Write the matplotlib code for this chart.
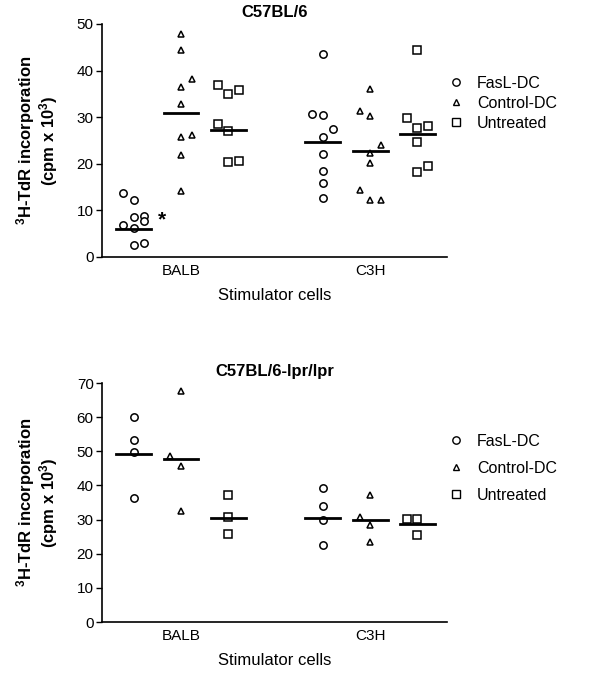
#!/usr/bin/env python3
"""
Dot plots of 3H-TdR incorporation for C57BL/6 and C57BL/6-lpr/lpr
responders, with median bars per group.
"""

import matplotlib
matplotlib.use("Agg")
import matplotlib.pyplot as plt

plt.rcParams['font.family'] = ['Liberation Sans', 'DejaVu Sans']
plt.rcParams['mathtext.fontset'] = 'custom'
plt.rcParams['mathtext.rm'] = 'Liberation Sans'
plt.rcParams['mathtext.bf'] = 'Liberation Sans:bold'

# DATA
stimulators = ["BALB", "C3H"]
groups = ["FasL-DC", "Control-DC", "Untreated"]

# top panel: C57BL/6 (cpm x 10^3)
b6_balb_fasl = [13.7, 12.2, 8.6, 8.8, 7.7, 6.9, 6.2, 2.6, 3.0]
b6_balb_ctrl = [47.9, 44.4, 36.5, 38.2, 32.8, 25.8, 26.2, 21.9, 14.2]
b6_balb_untr = [36.9, 35.0, 35.8, 28.5, 27.0, 20.4, 20.6]
b6_c3h_fasl = [43.6, 30.7, 30.5, 27.5, 25.8, 22.1, 18.5, 15.9, 12.7]
b6_c3h_ctrl = [36.1, 31.3, 30.3, 24.0, 22.3, 20.2, 14.4, 12.2, 12.2]
b6_c3h_untr = [44.4, 29.8, 27.7, 28.1, 24.7, 18.2, 19.5]
b6_medians = [[6.0, 30.9, 27.3], [24.7, 22.7, 26.4]]

# bottom panel: C57BL/6-lpr/lpr
lpr_balb_fasl = [60.2, 53.3, 49.7, 36.2]
lpr_balb_ctrl = [67.8, 48.5, 45.7, 32.5]
lpr_balb_untr = [37.2, 30.7, 25.7]
lpr_c3h_fasl = [39.2, 33.9, 29.9, 22.7]
lpr_c3h_ctrl = [37.2, 30.7, 28.5, 23.5]
lpr_c3h_untr = [30.2, 30.2, 25.5]
lpr_medians = [[49.2, 47.7, 30.4], [30.5, 29.9, 28.7]]

# jitter columns (-1 left, 0 centre, +1 right) to mimic the original layout
b6_cols = [
    [[-1, 0, 0, 1, 1, -1, 0, 0, 1], [0, 0, 0, 1, 0, 0, 1, 0, 0],
     [-1, 0, 1, -1, 0, 0, 1]],
    [[0, -1, 0, 1, 0, 0, 0, 0, 0], [0, -1, 0, 1, 0, 0, -1, 0, 1],
     [0, -1, 0, 1, 0, 0, 1]],
]
lpr_cols = [
    [[0, 0, 0, 0], [0, -1, 0, 0], [0, 0, 0]],
    [[0, 0, 0, 0], [0, -1, 0, 0], [-1, 0, 0]],
]

markers = ['o', '^', 's']
msizes = [5.3, 4.3, 5.3]
group_off = 0.25
col_step = 0.056


def _panel(ax, data, medians, cols, title, ymax, leg_y, leg_space):
    for ii, stim in enumerate(data):
        for jj, vals in enumerate(stim):
            xc = ii + 1 + (jj - 1) * group_off
            xs = [xc + cc * col_step for cc in cols[ii][jj]]
            ax.plot(xs, vals, linestyle='none', marker=markers[jj],
                    markersize=msizes[jj], markerfacecolor='white',
                    markeredgecolor='black', markeredgewidth=1.1,
                    zorder=3)
            ax.plot([xc - 0.092, xc + 0.092], [medians[ii][jj]] * 2,
                    color='black', linewidth=2.0, zorder=4)

    ax.set_xlim(0.582, 2.407)
    ax.set_ylim(0, ymax)
    ax.set_yticks(range(0, ymax + 1, 10))
    ax.set_xticks([1, 2])
    ax.set_xticklabels(stimulators, fontsize=11)
    ax.tick_params(axis='x', length=0, pad=5)
    ax.tick_params(axis='y', length=4, width=1, labelsize=11, pad=2)
    for side in ['top', 'right']:
        ax.spines[side].set_visible(False)
    for side in ['left', 'bottom']:
        ax.spines[side].set_linewidth(1.2)
    ax.set_xlabel("Stimulator cells", fontsize=12, labelpad=7)
    ax.set_ylabel("$\\mathbf{{}^3}$H-TdR incorporation\n"
                  "(cpm x 10$\\mathbf{{}^3}$)",
                  fontsize=12, fontweight='bold', labelpad=12,
                  linespacing=1.0)
    ax.set_title(title, fontsize=12, fontweight='bold', pad=5)

    # legend made from proxy markers
    handles = [plt.Line2D([], [], linestyle='none', marker=markers[kk],
                          markersize=msizes[kk],
                          markerfacecolor='white',
                          markeredgecolor='black', markeredgewidth=1.0)
               for kk in range(3)]
    ax.legend(handles, groups, loc='upper left',
              bbox_to_anchor=(0.99, leg_y), frameon=False, fontsize=11.5,
              handletextpad=0.5, labelspacing=leg_space, handlelength=1.6,
              borderaxespad=0.0, borderpad=0.0)


fig = plt.figure(figsize=(5.97, 6.75), dpi=100)
ax1 = fig.add_axes([0.1709, 0.6193, 0.578, 0.3452])
ax2 = fig.add_axes([0.1709, 0.0785, 0.578, 0.354])

_panel(ax1,
       [[b6_balb_fasl, b6_balb_ctrl, b6_balb_untr],
        [b6_c3h_fasl, b6_c3h_ctrl, b6_c3h_untr]],
       b6_medians, b6_cols, "C57BL/6", 50, 0.778, 0.32)
ax1.text(1 - group_off + 0.15, 7.9, "*", fontsize=15, fontweight='bold',
         ha='center', va='center')

_panel(ax2,
       [[lpr_balb_fasl, lpr_balb_ctrl, lpr_balb_untr],
        [lpr_c3h_fasl, lpr_c3h_ctrl, lpr_c3h_untr]],
       lpr_medians, lpr_cols, "C57BL/6-lpr/lpr", 70, 0.788, 0.75)

fig.savefig("out.png", dpi=100)
